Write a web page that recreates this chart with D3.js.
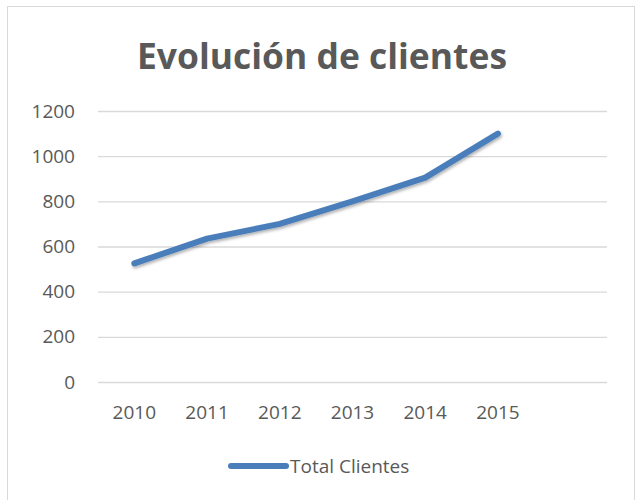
<!DOCTYPE html>
<html>
<head>
<meta charset="utf-8">
<script src="https://cdn.jsdelivr.net/npm/d3@7"></script>
<style>
  body { margin: 0; background: #fff; }
  text { font-family: "Open Sans", "Noto Sans", sans-serif; }
</style>
</head>
<body>
<script>
// Data
const years = ["2010", "2011", "2012", "2013", "2014", "2015", ""];
const clientes = [525, 635, 700, 800, 905, 1100];
const yTicks = [0, 200, 400, 600, 800, 1000, 1200];
const seriesName = "Total Clientes";
const title = "Evolución de clientes";

const W = 638, H = 500;
const margin = { top: 111, right: 31, bottom: 118, left: 98 };
const width = W - margin.left - margin.right;
const height = H - margin.top - margin.bottom;

const svg = d3.select("body").append("svg")
  .attr("width", W)
  .attr("height", H);

// Outer chart frame
svg.append("rect")
  .attr("x", 7.5).attr("y", 6.5)
  .attr("width", 627).attr("height", 500)
  .attr("fill", "#fff")
  .attr("stroke", "#d9d9d9")
  .attr("stroke-width", 1);

// Shadow filter for the line
const defs = svg.append("defs");
const f = defs.append("filter").attr("id", "shadow")
  .attr("x", "-10%").attr("y", "-10%").attr("width", "120%").attr("height", "130%");
f.append("feDropShadow")
  .attr("dx", 1).attr("dy", 2).attr("stdDeviation", 1.5)
  .attr("flood-color", "#000").attr("flood-opacity", 0.3);

// Title
svg.append("text")
  .attr("x", 322).attr("y", 69)
  .attr("text-anchor", "middle")
  .attr("font-size", 35)
  .attr("font-weight", "bold")
  .attr("fill", "#595959")
  .attr("textLength", 370)
  .attr("lengthAdjust", "spacingAndGlyphs")
  .text(title);

const g = svg.append("g")
  .attr("transform", `translate(${margin.left},${margin.top})`);

// Scales
const x = d3.scaleBand()
  .domain(years)
  .range([0, width]);

const y = d3.scaleLinear()
  .domain([0, 1200])
  .range([height, 0]);

// Gridlines + y labels
const yAxis = d3.axisLeft(y)
  .tickValues(yTicks)
  .tickFormat(d3.format("d"))
  .tickSize(-width)
  .tickPadding(23);

g.append("g")
  .call(yAxis)
  .call(s => s.select(".domain").remove())
  .call(s => s.selectAll(".tick line").attr("stroke", "#d9d9d9").attr("stroke-width", 1.3))
  .call(s => s.selectAll(".tick text")
    .attr("fill", "#595959")
    .attr("font-size", 19)
    .style("font-family", "'Open Sans', sans-serif"));

// X labels
const xAxis = d3.axisBottom(x)
  .tickSize(0)
  .tickPadding(24);

g.append("g")
  .attr("transform", `translate(0,${height})`)
  .call(xAxis)
  .call(s => s.select(".domain").remove())
  .call(s => s.selectAll(".tick text")
    .attr("fill", "#595959")
    .attr("font-size", 19)
    .style("font-family", "'Open Sans', sans-serif"));

// Line
const line = d3.line()
  .x((d, i) => x(years[i]) + x.bandwidth() / 2)
  .y(d => y(d));

g.append("path")
  .datum(clientes)
  .attr("fill", "none")
  .attr("stroke", "#4a7ebb")
  .attr("stroke-width", 6)
  .attr("stroke-linecap", "round")
  .attr("stroke-linejoin", "round")
  .attr("filter", "url(#shadow)")
  .attr("d", line);

// Legend
const legend = svg.append("g").attr("transform", "translate(229,466)");
legend.append("line")
  .attr("x1", 2).attr("x2", 57)
  .attr("stroke", "#4a7ebb")
  .attr("stroke-width", 6)
  .attr("stroke-linecap", "round");
legend.append("text")
  .attr("x", 61).attr("y", 7)
  .attr("fill", "#595959")
  .attr("font-size", 19)
  .text(seriesName);
</script>
</body>
</html>
